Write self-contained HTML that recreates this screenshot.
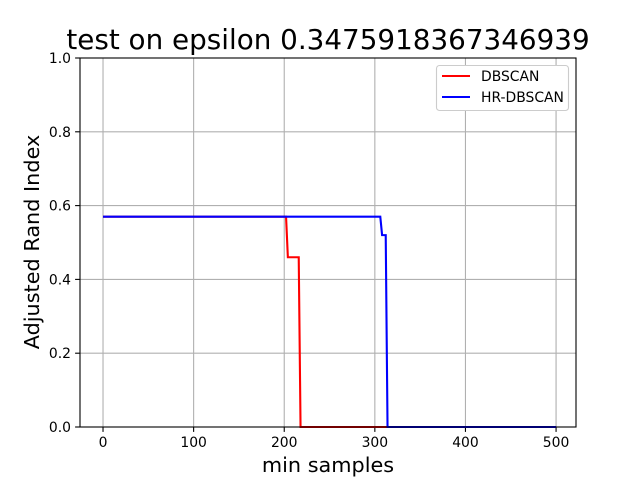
<!DOCTYPE html>
<html><head><meta charset="utf-8"><style>body{margin:0;background:#fff}svg{display:block}text{font-family:"DejaVu Sans","Liberation Sans",sans-serif}</style></head>
<body>
<svg id="c" width="640" height="480"></svg>
<script>
const xTicks=[0,100,200,300,400,500];
const yTicks=[0.0,0.2,0.4,0.6,0.8,1.0];
const dbscanX=[0,202,204,216,218,500];
const dbscanY=[0.57,0.57,0.46,0.46,0,0];
const hrX=[0,306,308,312,314,500];
const hrY=[0.57,0.57,0.52,0.52,0,0];
const L=80,R=576,T=58,B=427,xmin=-25.4,xmax=522;
const sx=v=>L+(v-xmin)/(xmax-xmin)*(R-L);
const sy=v=>B-v*(B-T);
const svg=document.getElementById('c');const NS='http://www.w3.org/2000/svg';
function el(t,a,txt){const e=document.createElementNS(NS,t);for(const k in a)e.setAttribute(k,a[k]);if(txt!==undefined)e.textContent=txt;svg.appendChild(e);return e;}
xTicks.forEach(v=>{const g=el('line',{x1:sx(v),x2:sx(v),y1:T,y2:B,stroke:'#b0b0b0','stroke-width':1.1});

const t=el('line',{x1:sx(v),x2:sx(v),y1:B,y2:B+4.9,stroke:'#000','stroke-width':1.1});

const l=el('text',{x:sx(v),y:B+20,'font-size':13.9,'text-anchor':'middle'},String(v));
});
yTicks.forEach(v=>{const g=el('line',{x1:L,x2:R,y1:sy(v),y2:sy(v),stroke:'#b0b0b0','stroke-width':1.1});

const t=el('line',{x1:L-4.9,x2:L,y1:sy(v),y2:sy(v),stroke:'#000','stroke-width':1.1});

const l=el('text',{x:L-9,y:sy(v)+5,'font-size':13.9,'text-anchor':'end'},v.toFixed(1));
});
function line(xs,ys,c,n){const p=el('polyline',{points:xs.map((x,i)=>sx(x)+','+sy(ys[i])).join(' '),fill:'none',stroke:c,'stroke-width':2.1});
}
line(dbscanX,dbscanY,'#ff0000','dbscan-line');
line(hrX,hrY,'#0000ff','hr-dbscan-line');
const fr=el('rect',{x:L,y:T,width:R-L,height:B-T,fill:'none',stroke:'#000','stroke-width':1.1});

const ttl=el('text',{x:328,y:49,'font-size':27.8,'text-anchor':'middle'},'test on epsilon 0.3475918367346939');

const xt=el('text',{x:328,y:472,'font-size':20.8,'text-anchor':'middle'},'min samples');

const yt=el('text',{x:39,y:242,'font-size':20.8,'text-anchor':'middle',transform:'rotate(-90 39 242)'},'Adjusted Rand Index');

const lg=el('rect',{x:436.5,y:65.5,width:132,height:45,fill:'#fff',stroke:'#ccc','stroke-width':1.1,rx:3});

[['DBSCAN','#ff0000',81],['HR-DBSCAN','#0000ff',102]].forEach(([n,c,y])=>{
const s=el('line',{x1:442,x2:470,y1:y-5,y2:y-5,stroke:c,'stroke-width':2.1});

const t=el('text',{x:481,y:y,'font-size':13.9},n);
});
</script>
</body></html>
